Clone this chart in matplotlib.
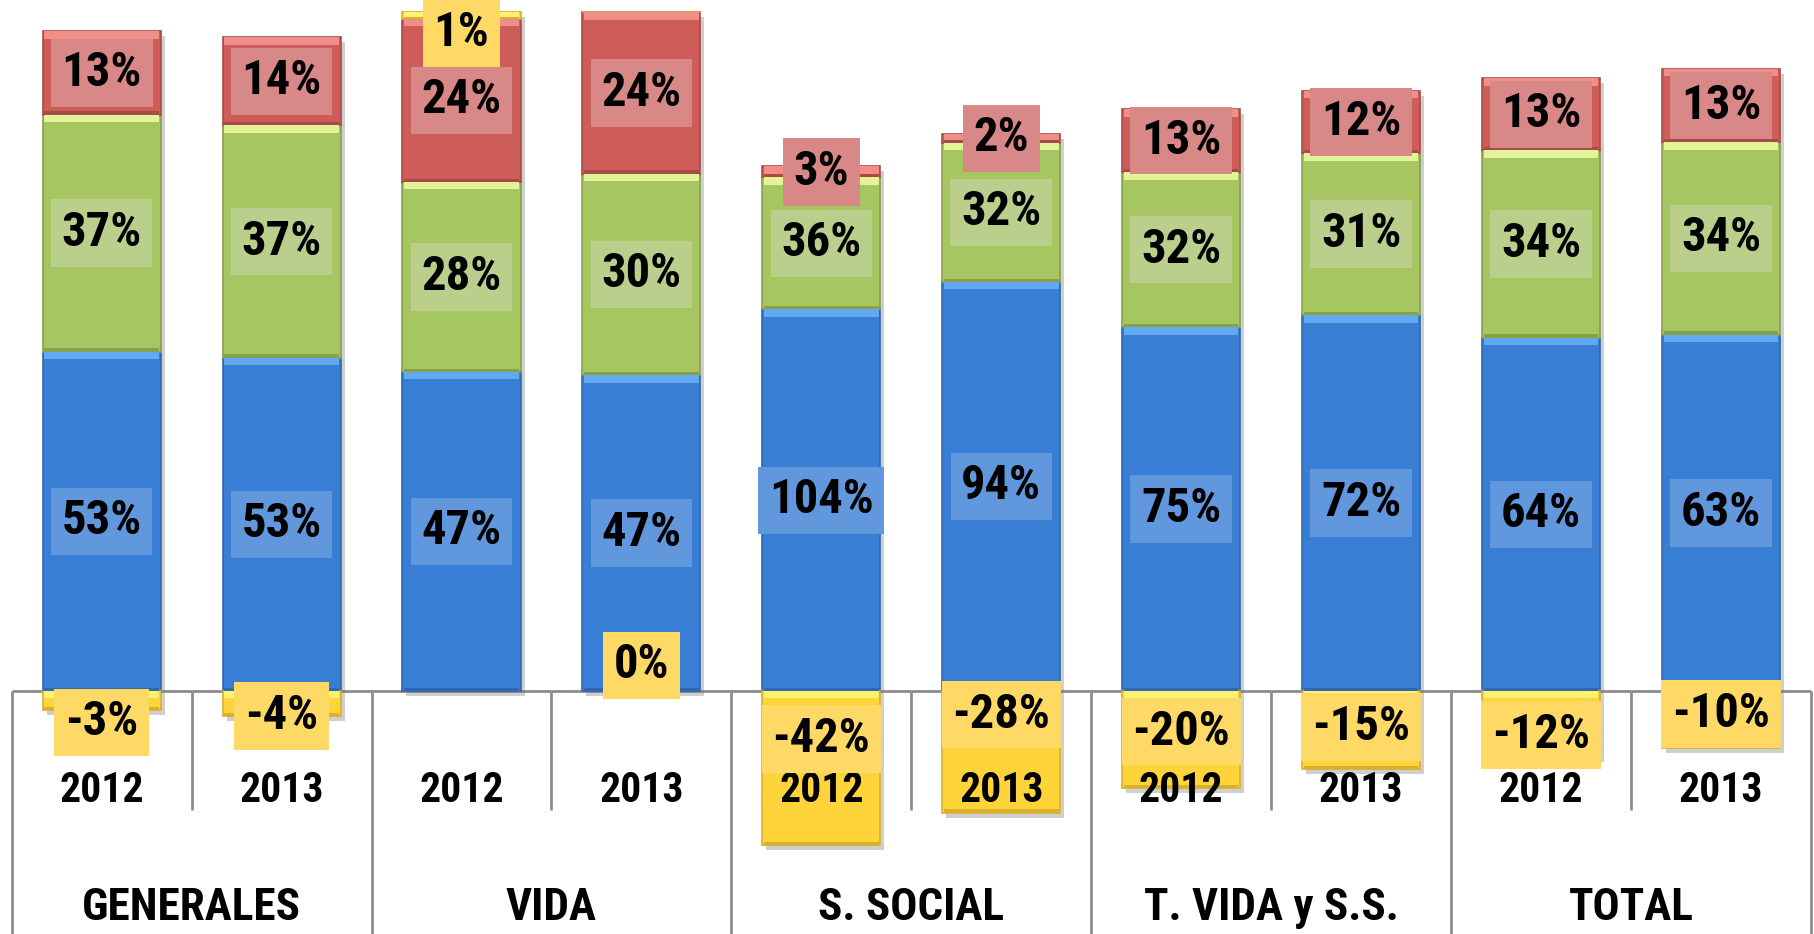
import matplotlib
matplotlib.use('Agg')
from matplotlib import pyplot as plt
from matplotlib import transforms
from matplotlib import font_manager
import numpy as np

# datos (valores de las etiquetas, en %)
groups = ['GENERALES', 'VIDA', 'S. SOCIAL', 'T. VIDA y S.S.', 'TOTAL']
years = ['2012', '2013', '2012', '2013', '2012', '2013', '2012', '2013', '2012', '2013']
yellow = [-3, -4, 1, 0, -42, -28, -20, -15, -12, -10]
blue = [53, 53, 47, 47, 104, 94, 75, 72, 64, 63]
green = [37, 37, 28, 30, 36, 32, 32, 31, 34, 34]
red = [13, 14, 24, 24, 3, 2, 13, 12, 13, 13]

# posicion vertical de las etiquetas amarillas (escala 100%)
yellow_label_y = [-4.6, -3.7, 96.9, 3.8, -7.1, -3.5, -6.0, -5.3, -6.5, -3.4]

names = set(f.name for f in font_manager.fontManager.ttflist)
narrow = [n for n in ['Arial Narrow', 'Liberation Sans Narrow', 'Nimbus Sans Narrow',
                      'Roboto Condensed', 'Archivo Narrow', 'PT Sans Narrow',
                      'Pragati Narrow', 'Fira Sans Condensed'] if n in names]
plt.rcParams['font.family'] = narrow[:1] + ['Liberation Sans', 'DejaVu Sans']

# grafico 100% apilado (Excel normaliza con la suma de valores absolutos)
y_arr = np.array(yellow, float)
b_arr = np.array(blue, float)
g_arr = np.array(green, float)
r_arr = np.array(red, float)
total = np.abs(y_arr) + b_arr + g_arr + r_arr
ny = y_arr / total * 100
nb = b_arr / total * 100
ng = g_arr / total * 100
nr = r_arr / total * 100

fig = plt.figure(figsize=(18.14, 9.34), dpi=100)
ax = fig.add_axes([0, 0, 1, 1])
ax.set_xlim(-0.565, 9.517)
ax.set_ylim(-35.8, 101.8)
ax.axis('off')

x = np.arange(len(years))
w = 0.656
fs = 35
fs_year = 30
fs_group = 32.5

# sombra
top_all = nb + ng + nr + np.clip(ny, 0, None)
bot_all = np.clip(ny, None, 0)
shadow = ax.transData + transforms.ScaledTranslation(4 / 100, -5 / 100, fig.dpi_scale_trans)
ax.bar(x, top_all - bot_all, w, bot_all, color='#777777', alpha=0.35, zorder=2, transform=shadow)


def segment(bottom, height, color, light, dark):
    ax.bar(x, height, w, bottom, color=color, edgecolor=dark, linewidth=1.2, zorder=3)
    top = np.where(height >= 0, bottom + height, bottom)
    sh = np.minimum(1.1, np.abs(height))
    ax.bar(x, -sh, w * 0.97, top, color=light, linewidth=0, zorder=4)
    bot = np.where(height >= 0, bottom, bottom + height)
    sb = np.minimum(0.5, np.abs(height) * 0.3)
    ax.bar(x, sb, w * 0.97, bot, color=dark, linewidth=0, zorder=4)


segment(np.zeros(10), nb, '#387ED4', '#62A9F2', '#2E68B0')
segment(nb, ng, '#A6C662', '#E2F39A', '#86A04C')
segment(nb + ng, nr, '#CE5C58', '#F08E8A', '#A84A47')
yb = np.where(ny >= 0, nb + ng + nr, 0)
segment(yb, ny, '#FFD43A', '#FFF26E', '#D9B02A')


def label(xi, yi, txt, fc):
    ax.text(xi, yi, txt, ha='center', va='center', fontsize=fs, fontweight='bold',
            color='black', zorder=8,
            bbox=dict(boxstyle='square,pad=0.22', fc=fc, ec='none'))


for i in range(len(years)):
    label(x[i], nb[i] / 2, f'{blue[i]}%', '#6197DC')
    label(x[i], nb[i] + ng[i] / 2, f'{green[i]}%', '#BACF8C')
    label(x[i], nb[i] + ng[i] + nr[i] / 2, f'{red[i]}%', '#D88886')
    label(x[i], yellow_label_y[i], f'{yellow[i]}%', '#FFD966')

# eje de categorias con dos niveles
ax.hlines(0, -0.5, 9.5, color='#8C8C8C', lw=2, zorder=1)
ax.vlines(np.arange(0.5, 10, 2), -17.5, 0, color='#8C8C8C', lw=2, zorder=1)
ax.vlines(np.arange(-0.5, 10, 2), -35.8, 0, color='#8C8C8C', lw=2, zorder=1)

for i in range(len(years)):
    ax.text(x[i], -14.6, years[i], ha='center', va='center', fontsize=fs_year,
            fontweight='bold', zorder=7)
for j in range(len(groups)):
    ax.text(2 * j + 0.5, -32.0, groups[j], ha='center', va='center', fontsize=fs_group,
            fontweight='bold', zorder=7)

fig.savefig('out.png', dpi=100)
